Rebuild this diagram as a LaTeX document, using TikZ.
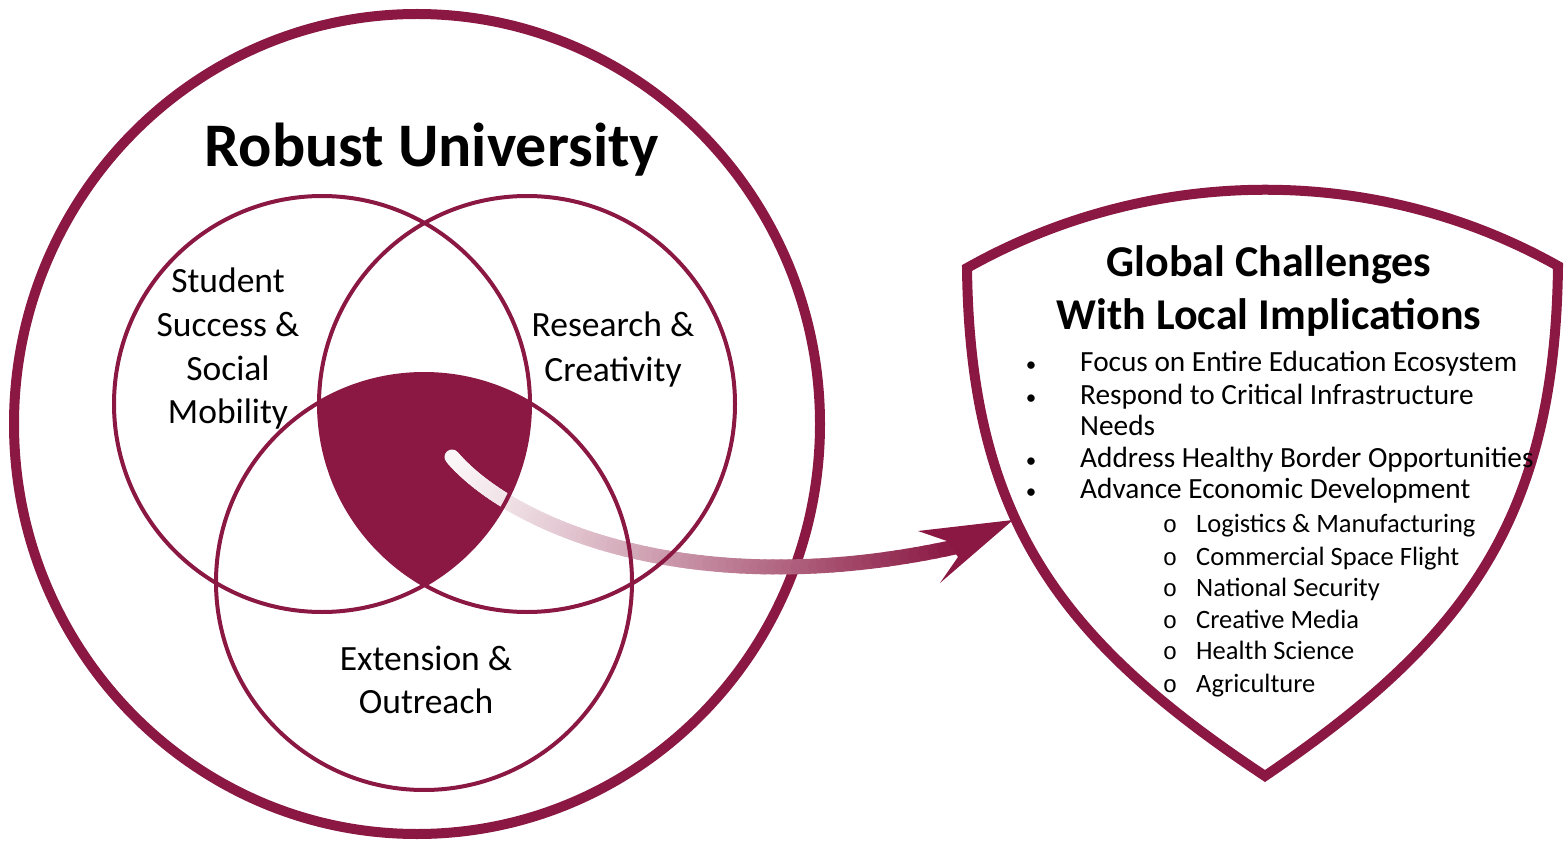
\documentclass[tikz,border=0pt]{standalone}
\usepackage{fontspec}
\setmainfont{Carlito}
\newfontfamily\monofont{Liberation Mono}
\usetikzlibrary{calc}
\definecolor{maroon}{RGB}{138,24,66}
\tikzset{
  outerring/.style={draw=maroon, line width=10},
  venn/.style={draw=maroon, line width=4},
  shieldline/.style={draw=maroon, line width=10, line join=miter, fill=white},
  titletext/.style={inner sep=0, anchor=base, font=\fontsize{62}{70}\selectfont\bfseries},
  headtext/.style={inner sep=0, anchor=base, font=\fontsize{44}{50}\selectfont\bfseries},
  venntext/.style={inner sep=0, anchor=base, font=\fontsize{35.5}{42}\selectfont},
  itemtext/.style={inner sep=0, anchor=base west, font=\fontsize{29.3}{32}\selectfont},
  subtext/.style={inner sep=0, anchor=base west, font=\fontsize{26.5}{32}\selectfont},
  bullettext/.style={inner sep=0, anchor=base, font=\fontsize{21}{32}\selectfont},
  subbullet/.style={inner sep=0, anchor=base, font=\fontsize{24}{32}\monofont},
}
\begin{document}
\begin{tikzpicture}[x=1pt,y=-1pt]
\useasboundingbox (0,0) rectangle (1566,842);
% outer ring
\draw[outerring] (417,424) ellipse[x radius=403, y radius=410];
% Venn centres
\coordinate (cL) at (322,404);
\coordinate (cR) at (527,404);
\coordinate (cB) at (424,582);
% intersection fill
\begin{scope}
  \clip (cL) circle[radius=208];
  \clip (cR) circle[radius=208];
  \fill[maroon] (cB) circle[radius=208];
\end{scope}
% gradient arrow shaft
\path (452,457) .. controls (510,525) and (690,605) .. (955,547)
  foreach \i in {0,...,80} {coordinate[pos=\i/80] (p\i)};
\foreach \i [evaluate=\i as \j using int(\i+1), evaluate=\i as \f using {min(100,100*(0.04+0.96*(\i/80)^1.6))}] in {0,...,79} {
  \draw[line width=15, line cap=round, color=maroon!\f!white] (p\i) -- (p\j);
}
% arrowhead
\coordinate (tip) at (1013,520);
\fill[maroon] (tip) -- (918,531) -- (947,541) -- (958,557) -- (940,583) -- cycle;
% Venn outlines
\draw[venn] (cL) circle[radius=208];
\draw[venn] (cR) circle[radius=208];
\draw[venn] (cB) circle[radius=208];
% shield
\draw[shieldline] (967,268) .. controls (1150,165) and (1375,163) .. (1558,266)
  .. controls (1555,520) and (1465,640) .. (1265,776)
  .. controls (1060,640) and (970,520) .. cycle;
% texts
\node[titletext] (title) at (432,167) {Robust University};
\node[venntext] (s1) at (228,293) {Student};
\node[venntext] (s2) at (228,337) {Success \&};
\node[venntext] (s3) at (228,380) {Social};
\node[venntext] (s4) at (228,423) {Mobility};
\node[venntext] (r1) at (613,337) {Research \&};
\node[venntext] (r2) at (613,381) {Creativity};
\node[venntext] (e1) at (426,670) {Extension \&};
\node[venntext] (e2) at (426,713) {Outreach};
\node[headtext] (h1) at (1269,277) {Global Challenges};
\node[headtext] (h2) at (1269,330) {With Local Implications};
\foreach \y/\txt [count=\k] in {371/Focus on Entire Education Ecosystem, 404/Respond to Critical Infrastructure, 467/Address Healthy Border Opportunities, 498/Advance Economic Development} {
  \node[bullettext] (b\k) at (1031,\y) {•};
  \node[itemtext] (it\k) at (1080,\y) {\txt};
}
\node[itemtext] (needs) at (1080,435) {Needs};
\foreach \y/\txt [count=\k] in {532/Logistics \& Manufacturing, 565/Commercial Space Flight, 596/National Security, 628/Creative Media, 659/Health Science, 692/Agriculture} {
  \node[subbullet] (o\k) at (1170,\y) {o};
  \node[subtext] (sub\k) at (1196,\y) {\txt};
}
\end{tikzpicture}
\end{document}
